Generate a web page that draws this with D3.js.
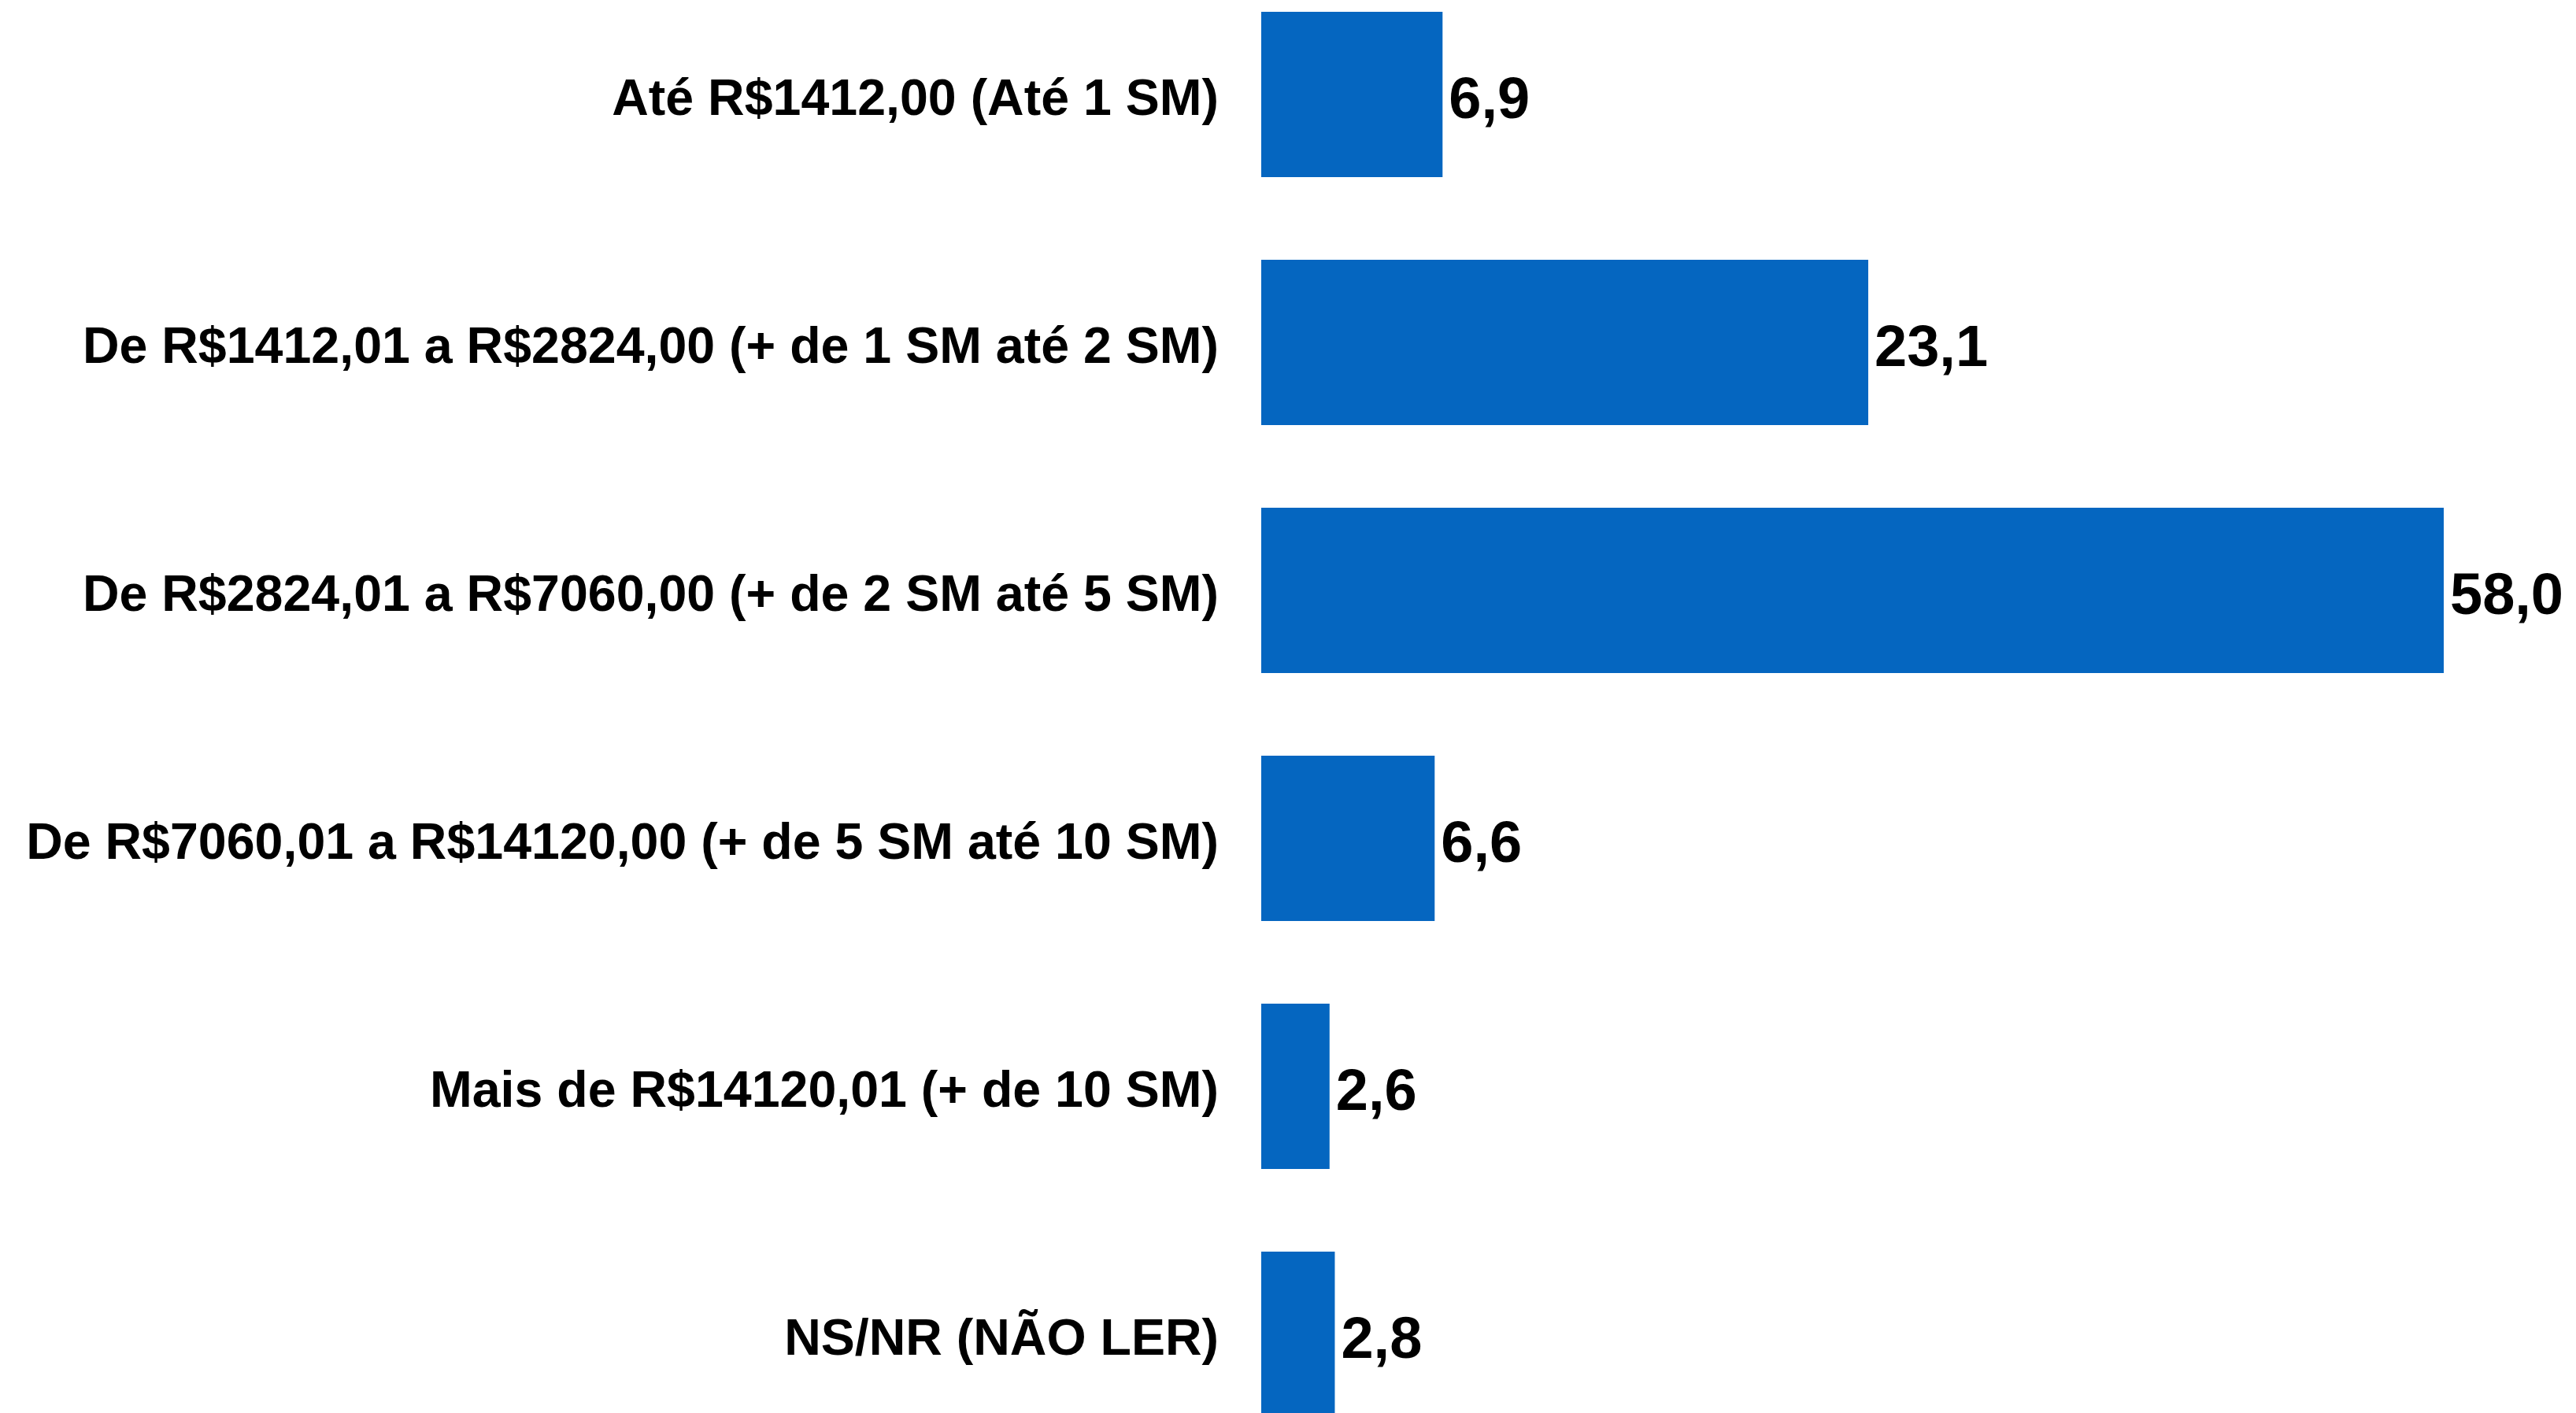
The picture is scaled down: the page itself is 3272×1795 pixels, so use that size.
<!DOCTYPE html>
<html>
<head>
<meta charset="utf-8">
<script src="https://cdn.jsdelivr.net/npm/d3@7"></script>
<style>
    body { margin: 0; background: #fff; }
    .cat { font-family: "Liberation Sans", Arial, sans-serif; font-weight: bold; font-size: 64.5px; fill: #000; }
    .val { font-family: "Liberation Sans", Arial, sans-serif; font-weight: bold; font-size: 74px; fill: #000; }
</style>
</head>
<body>
<div id="chart"></div>
<script>
// chart data
const categories = [
    "Até R$1412,00 (Até 1 SM)",
    "De R$1412,01 a R$2824,00 (+ de 1 SM até 2 SM)",
    "De R$2824,01 a R$7060,00 (+ de 2 SM até 5 SM)",
    "De R$7060,01 a R$14120,00 (+ de 5 SM até 10 SM)",
    "Mais de R$14120,01 (+ de 10 SM)",
    "NS/NR (NÃO LER)"
];
const values = [6.9, 23.1, 58.0, 6.6, 2.6, 2.8];
// the original axis stops short of the biggest bar, which gets cut off
const xMax = 45;

function init() {
    const w = 3272;
    const h = 1795;

    const svg = d3.select("#chart").append("svg")
        .attr("width", w)
        .attr("height", h);

    const dataset = categories.map((c, i) => ({ cat: c, value: values[i] }));

    // Scales
    const xScale = d3.scaleLinear()
        .domain([0, xMax])
        .range([1602, 3104])
        .clamp(true);

    const yScale = d3.scaleBand()
        .domain(categories)
        .range([15, 1800])
        .paddingInner(1 / 3)
        .paddingOuter(0);

    // Bars
    svg.selectAll("rect.bar")
        .data(dataset)
        .enter()
        .append("rect")
        .attr("class", "bar")
        .attr("x", xScale(0))
        .attr("y", (d) => yScale(d.cat))
        .attr("width", (d) => xScale(d.value) - xScale(0))
        .attr("height", yScale.bandwidth())
        .attr("fill", "#0566c0");

    // Category labels
    svg.selectAll("text.cat")
        .data(dataset)
        .enter()
        .append("text")
        .attr("class", "cat")
        .attr("x", xScale(0) - 54)
        .attr("y", (d) => yScale(d.cat) + yScale.bandwidth() / 2)
        .attr("dy", "0.4em")
        .attr("text-anchor", "end")
        .text((d) => d.cat);

    // Value labels
    svg.selectAll("text.val")
        .data(dataset)
        .enter()
        .append("text")
        .attr("class", "val")
        .attr("x", (d) => xScale(d.value) + 8)
        .attr("y", (d) => yScale(d.cat) + yScale.bandwidth() / 2)
        .attr("dy", "0.4em")
        .text((d) => d.value.toFixed(1).replace(".", ","));
}

window.onload = init;
</script>
</body>
</html>
